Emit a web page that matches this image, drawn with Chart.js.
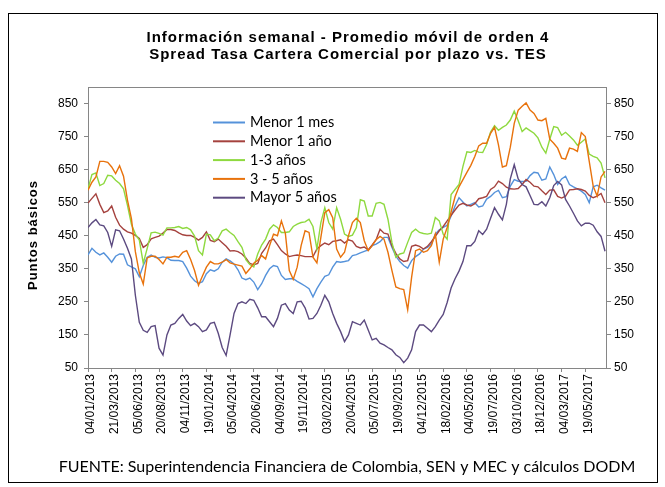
<!DOCTYPE html>
<html lang="es">
<head>
<meta charset="UTF-8">
<title>Spread Tasa Cartera Comercial por plazo vs. TES</title>
<style>
  html, body { margin: 0; padding: 0; background: #fff; }
  #wrap { width: 665px; height: 487px; }
</style>
</head>
<body>
<div id="wrap"><canvas id="chart" width="665" height="487"></canvas></div>
<script src="https://cdn.jsdelivr.net/npm/chart.js@4.4.1/dist/chart.umd.min.js"></script>
<script>
  // etiquetas del eje x (una cada 6 observaciones semanales)
  const tickLabels = ['04/01/2013', '21/03/2013', '05/06/2013', '20/08/2013', '04/11/2013',
    '19/01/2014', '05/04/2014', '20/06/2014', '04/09/2014', '19/11/2014',
    '03/02/2015', '20/04/2015', '05/07/2015', '19/09/2015', '04/12/2015',
    '18/02/2016', '04/05/2016', '19/07/2016', '03/10/2016', '18/12/2016',
    '04/03/2017', '19/05/2017'];
  const pointsPerTick = 6;
  const yTicks = [50, 150, 250, 350, 450, 550, 650, 750, 850];

  const seriesNames = ['Menor 1 mes', 'Menor 1 año', '1-3 años', '3 - 5 años', 'Mayor 5 años'];

  const menor1Mes = [
    392, 412, 400, 392, 398, 385, 370, 388, 395, 394,
    362, 356, 350, 326, 360, 385, 392, 385, 383, 386,
    384, 376, 375, 375, 372, 352, 328, 314, 306, 311,
    335, 347, 343, 350, 370, 380, 374, 365, 347, 322,
    317, 322, 310, 287, 305, 330, 350, 360, 357, 330,
    318, 320, 320, 312, 305, 298, 290, 265, 290, 310,
    327, 332, 355, 372, 370, 372, 375, 390, 393, 398,
    403, 407, 420, 425, 432, 445, 445, 415, 388, 372,
    360, 352, 375, 387, 395, 410, 415, 425, 455, 468,
    475, 482, 510, 540, 565, 552, 540, 545, 550, 537,
    540, 561, 569, 581, 587, 565, 568, 600, 620, 615,
    614, 615, 632, 642, 640, 618, 622, 658, 635, 605,
    622, 630, 605, 598, 592, 585, 575, 550, 598, 603, 595, 588];

  const menor1Ano = [
    549, 563, 577, 545, 520, 525, 540, 506, 482, 470,
    462, 458, 451, 442, 415, 423, 441, 445, 449, 458,
    469, 469, 466, 459, 453, 451, 451, 445, 437, 445,
    462, 436, 432, 440, 429, 418, 404, 405, 402, 395,
    383, 366, 362, 366, 397, 413, 435, 440, 423, 405,
    395, 387, 390, 392, 390, 387, 387, 387, 410, 420,
    428, 423, 433, 435, 438, 428, 438, 434, 418, 413,
    416, 407, 422, 438, 470, 458, 455, 420, 397, 380,
    372, 375, 418, 422, 418, 410, 418, 432, 448, 465,
    478, 495, 512, 528, 543, 548, 543, 540, 547, 562,
    565, 569, 590, 598, 615, 608, 597, 592, 591, 593,
    605, 620, 612, 600, 598, 586, 575, 588, 589, 569,
    564, 570, 589, 590, 592, 590, 585, 572, 565, 570, 578, 550];

  const de1a3 = [
    592, 635, 640, 602, 608, 633, 631, 618, 608, 592,
    542, 485, 455, 437, 367, 412, 459, 461, 457, 452,
    474, 474, 475, 478, 472, 475, 468, 449, 405, 392,
    455, 453, 435, 443, 465, 470, 460, 451, 432, 415,
    378, 363, 356, 395, 422, 440, 470, 483, 475, 460,
    460, 462, 478, 485, 490, 492, 500, 478, 410, 490,
    535, 490, 470, 535, 500, 455, 448, 452, 475, 559,
    555, 510, 510, 548, 551, 545, 500, 430, 385, 395,
    398, 430, 460, 470, 460, 457, 455, 458, 505, 495,
    455, 440, 575, 590, 605, 660, 704, 702, 708, 703,
    702, 726, 764, 783, 769, 778, 785, 800, 827, 798,
    765, 776, 768, 760, 746, 718, 700, 742, 780, 777,
    754, 763, 752, 740, 724, 733, 743, 697, 690, 686, 670, 625];

  const de3a5 = [
    588, 612, 628, 675, 675, 672, 658, 638, 662, 630,
    558, 502, 402, 338, 304, 383, 388, 388, 378, 365,
    385, 385, 388, 385, 400, 405, 378, 345, 300, 328,
    355, 372, 365, 365, 370, 378, 368, 364, 361, 358,
    336, 350, 367, 376, 390, 380, 420, 455, 450, 495,
    458, 345, 318, 355, 420, 465, 460, 385, 368, 445,
    520, 529, 505, 410, 385, 400, 450, 490, 503, 490,
    435, 405, 420, 438, 448, 440, 400, 345, 295, 290,
    287, 226, 325, 405, 410, 400, 405, 420, 455, 370,
    440, 475, 522, 568, 598, 620, 642, 663, 690, 722,
    730, 730, 760, 778, 725, 658, 662, 718, 790, 830,
    842, 852, 830, 820, 800, 798, 805, 742, 730, 715,
    685, 682, 715, 712, 705, 762, 750, 675, 600, 570, 628, 645];

  const mayor5 = [
    475, 489, 499, 483, 480, 460, 418, 468, 465, 440,
    412, 380, 270, 188, 164, 158, 175, 178, 110, 89,
    150, 180, 185, 200, 212, 192, 178, 185, 175, 160,
    165, 185, 188, 155, 112, 88, 150, 215, 245, 250,
    245, 258, 255, 232, 205, 205, 190, 175, 200, 240,
    245, 225, 215, 250, 252, 232, 198, 200, 215, 240,
    270, 250, 215, 185, 160, 130, 150, 190, 185, 180,
    195, 165, 135, 140, 125, 120, 112, 105, 90, 82,
    66, 80, 105, 160, 180, 180, 170, 160, 175, 195,
    212, 248, 292, 320, 343, 372, 420, 420, 433, 465,
    454, 470, 503, 535, 515, 498, 545, 622, 665, 622,
    605, 598, 572, 545, 544, 553, 540, 565, 602, 614,
    604, 560, 540, 518, 495, 480, 488, 488, 482, 462, 448, 403];

  const allSeries = [menor1Mes, menor1Ano, de1a3, de3a5, mayor5];
  const lineColors = ['#5592DA', '#A5423E', '#8ED93F', '#E8720C', '#5C4A80'];
  const axisGray = '#868686';

  const titleLines = ['Información semanal - Promedio móvil de orden 4',
    'Spread Tasa Cartera Comercial por plazo vs. TES'];
  const yTitle = 'Puntos básicos';
  const footnote = 'FUENTE: Superintendencia Financiera de Colombia, SEN y MEC y cálculos DODM';

  const xMax = (tickLabels.length - 1) * pointsPerTick + 5.5;

  // marco, titulos, leyenda y nota al pie
  const decor = {
    id: 'decor',
    beforeDatasetsDraw(chart) {
      const {ctx, chartArea: a} = chart;
      ctx.save();
      ctx.strokeStyle = axisGray;
      ctx.lineWidth = 1;
      ctx.strokeRect(a.left + 0.5, a.top + 0.5, a.right - a.left - 1, a.bottom - a.top);
      ctx.restore();
    },
    afterDraw(chart) {
      const ctx = chart.ctx;
      ctx.save();
      ctx.strokeStyle = '#000';
      ctx.lineWidth = 1;
      ctx.strokeRect(8.5, 13.5, 649, 469);

      ctx.fillStyle = '#000';
      ctx.textAlign = 'center';
      ctx.textBaseline = 'middle';
      ctx.font = 'bold 15px "Liberation Sans"';
      ctx.letterSpacing = '1px';
      ctx.fillText(titleLines[0], 348, 38);
      ctx.fillText(titleLines[1], 348, 55);

      // titulo del eje y, girado
      ctx.save();
      ctx.translate(33, 235);
      ctx.rotate(-Math.PI / 2);
      ctx.font = 'bold 13px "Liberation Sans"';
      ctx.fillText(yTitle, 0, 0);
      ctx.restore();
      ctx.letterSpacing = '0px';

      ctx.font = '16px Lato';
      ctx.fillText(footnote, 347, 467);

      ctx.textAlign = 'left';
      ctx.font = '14.5px Lato';
      seriesNames.forEach((name, k) => {
        const y = 122.5 + k * 18.8;
        ctx.strokeStyle = lineColors[k];
        ctx.lineWidth = 2;
        ctx.beginPath();
        ctx.moveTo(213, y);
        ctx.lineTo(245, y);
        ctx.stroke();
        ctx.fillText(name, 250, y);
      });
      ctx.restore();
    }
  };

  const yScale = (position, width) => ({
    position,
    min: 50,
    max: 900,
    afterBuildTicks: s => { s.ticks = yTicks.map(v => ({value: v})); },
    afterFit: s => { s.width = width; },
    border: {display: false},
    grid: {display: true, drawOnChartArea: false, drawTicks: true, tickLength: 4, color: axisGray},
    ticks: {padding: position === 'left' ? 6 : 3, color: '#000', font: {family: 'Liberation Sans', size: 12}}
  });

  new Chart(document.getElementById('chart'), {
    type: 'line',
    data: {
      datasets: allSeries.map((values, k) => ({
        label: seriesNames[k],
        data: values.map((v, i) => ({x: i, y: v})),
        borderColor: lineColors[k],
        backgroundColor: lineColors[k],
        borderWidth: 1.4,
        pointRadius: 0,
        tension: 0,
        fill: false,
        order: allSeries.length - k
      }))
    },
    options: {
      responsive: false,
      animation: false,
      devicePixelRatio: 1,
      layout: {padding: {top: 87, left: 0, right: 0, bottom: 42}},
      plugins: {legend: {display: false}, tooltip: {enabled: false}, title: {display: false}},
      scales: {
        x: {
          type: 'linear',
          min: 0,
          max: xMax,
          afterBuildTicks: s => { s.ticks = tickLabels.map((_, k) => ({value: k * pointsPerTick})); },
          afterFit: s => { s.height = 77; },
          border: {display: false},
          grid: {display: true, drawOnChartArea: false, drawTicks: true, tickLength: 4, color: axisGray},
          ticks: {
            autoSkip: false, maxRotation: 90, minRotation: 90, padding: 2, labelOffset: 3,
            color: '#000', font: {family: 'Liberation Sans', size: 12},
            callback: v => tickLabels[Math.round(v / pointsPerTick)]
          }
        },
        y: yScale('left', 88),
        y2: yScale('right', 58)
      }
    },
    plugins: [decor]
  });
</script>
</body>
</html>
